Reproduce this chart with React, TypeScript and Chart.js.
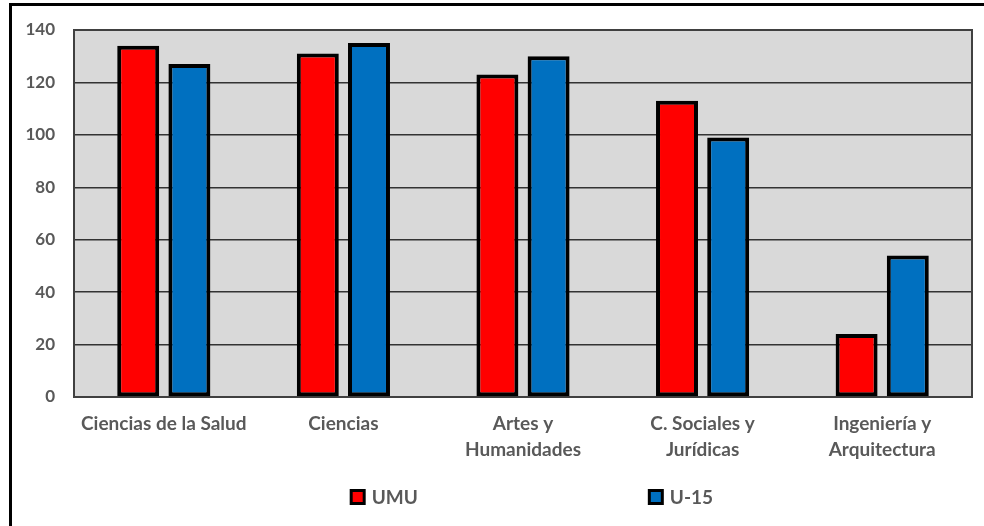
import React, { useEffect, useRef } from "react";
import { Chart, registerables } from "chart.js";

Chart.register(...registerables);

const categories: (string | string[])[] = [
  "Ciencias de la Salud",
  "Ciencias",
  ["Artes y", "Humanidades"],
  ["C. Sociales y", "Jurídicas"],
  ["Ingeniería y", "Arquitectura"],
];
const umuValues = [134, 131, 123, 113, 24];
const u15Values = [127, 135, 130, 99, 54];
const seriesNames = ["UMU", "U-15"];
const seriesColors = ["#FF0000", "#0070C0"];
const yMin = 0;
const yMax = 140;
const yStep = 20;

const TEXT = "#595959";
const FONT = "Lato";

const plotBg = {
  id: "plotBg",
  beforeDraw(chart: any) {
    const { ctx, chartArea: a } = chart;
    ctx.save();
    ctx.fillStyle = "#D9D9D9";
    ctx.fillRect(a.left, a.top, a.right - a.left, a.bottom - a.top);
    ctx.restore();
  },
  beforeDatasetsDraw(chart: any) {
    const { ctx, chartArea: a } = chart;
    ctx.save();
    ctx.strokeStyle = "#404040";
    ctx.lineWidth = 2;
    ctx.strokeRect(a.left, a.top, a.right - a.left, a.bottom - a.top);
    ctx.restore();
  },
};

const customLegend = {
  id: "customLegend",
  afterDraw(chart: any) {
    const { ctx, chartArea: a } = chart;
    const fractions = [0.307, 0.639];
    const yc = 497;
    ctx.save();
    chart.data.datasets.forEach((ds: any, i: number) => {
      const x = a.left + (a.right - a.left) * fractions[i];
      ctx.fillStyle = "#000";
      ctx.fillRect(x, yc - 8, 16, 16);
      ctx.fillStyle = ds.backgroundColor;
      ctx.fillRect(x + 3, yc - 5, 10, 10);
      ctx.fillStyle = TEXT;
      ctx.font = `bold 19px ${FONT}`;
      ctx.textBaseline = "middle";
      ctx.textAlign = "left";
      ctx.fillText(ds.label, x + 22, yc + 1);
    });
    ctx.restore();
  },
};

export default function App() {
  const ref = useRef<HTMLCanvasElement | null>(null);
  useEffect(() => {
    if (!ref.current) return;
    const chart = new Chart(ref.current, {
      type: "bar",
      data: {
        labels: categories as any,
        datasets: [umuValues, u15Values].map((vals, i) => ({
          label: seriesNames[i],
          data: vals,
          backgroundColor: seriesColors[i],
          borderColor: "#000000",
          borderWidth: 4,
          borderSkipped: false,
          categoryPercentage: 0.57,
          barPercentage: 0.82,
        })),
      },
      options: {
        animation: false,
        responsive: false,
        maintainAspectRatio: false,
        layout: { padding: { left: 0, right: 12, top: 30, bottom: 0 } },
        plugins: {
          legend: { display: false },
          tooltip: { enabled: false },
          title: { display: false },
        },
        scales: {
          x: {
            grid: { display: false, drawTicks: false },
            border: { display: false },
            ticks: {
              color: TEXT,
              padding: 14,
              maxRotation: 0,
              autoSkip: false,
              font: { family: FONT, size: 19, weight: "bold", lineHeight: 26 / 19 },
            },
            afterFit(s: any) {
              s.height = 129;
            },
          },
          y: {
            min: yMin,
            max: yMax,
            grid: { color: "#333333", lineWidth: 1.5, drawTicks: false },
            border: { display: false },
            ticks: {
              stepSize: yStep,
              color: TEXT,
              padding: 19,
              font: { family: FONT, size: 17, weight: "bold" },
            },
            afterFit(s: any) {
              s.width = 74;
            },
          },
        },
      },
      plugins: [plotBg, customLegend],
    });
    return () => chart.destroy();
  }, []);

  return (
    <div
      style={{
        position: "fixed",
        left: 0,
        top: 0,
        width: 984,
        height: 526,
        overflow: "hidden",
        background: "#fff",
      }}
    >
      <div
        style={{
          position: "absolute",
          left: 9,
          top: 3,
          width: 1100,
          height: 700,
          borderLeft: "3px solid #000",
          borderTop: "3px solid #000",
        }}
      />
      <canvas
        ref={ref}
        width={984}
        height={526}
        style={{ position: "absolute", left: 0, top: 0, width: 984, height: 526 }}
      />
    </div>
  );
}
